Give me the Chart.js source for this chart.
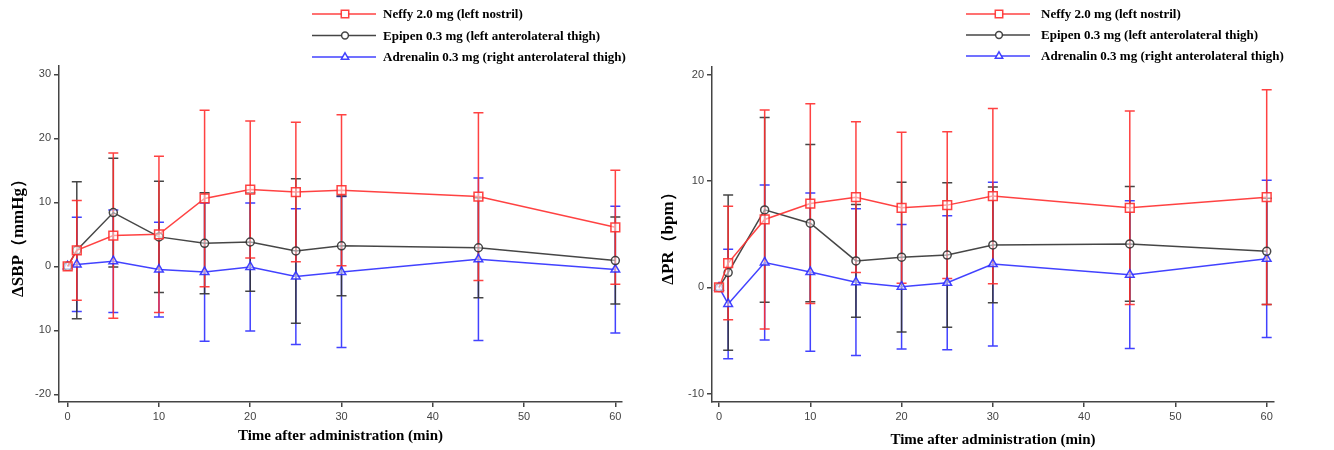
<!DOCTYPE html>
<html>
<head>
<meta charset="utf-8">
<script src="https://cdn.jsdelivr.net/npm/chart.js@4.4.1/dist/chart.umd.min.js"></script>
<style>
  body { margin: 0; background: #fff; }
  #sbp-wrap { position: absolute; left: 0; top: 0; width: 650px; height: 450px; }
  #pr-wrap { position: absolute; left: 650px; top: 0; width: 684px; height: 450px; }
</style>
</head>
<body>
<div id="sbp-wrap"><canvas id="sbpChart" width="650" height="450"></canvas></div>
<div id="pr-wrap"><canvas id="prChart" width="684" height="450"></canvas></div>
<script>
// sampling times (min)
const times = [0, 1, 5, 10, 15, 20, 25, 30, 45, 60];
const groupNames = [
    'Neffy 2.0 mg (left nostril)',
    'Epipen 0.3 mg (left anterolateral thigh)',
    'Adrenalin 0.3 mg (right anterolateral thigh)'
];

// change in systolic blood pressure, mean and SD
const sbpNeffy = [0, 2.5, 4.8, 5.0, 10.6, 12.0, 11.6, 11.9, 10.9, 6.1];
const sbpNeffySd = [0, 7.8, 12.9, 12.2, 13.8, 10.7, 10.9, 11.8, 13.1, 8.9];
const sbpEpipen = [0, 2.5, 8.4, 4.6, 3.6, 3.8, 2.4, 3.2, 2.9, 0.9];
const sbpEpipenSd = [0, 10.7, 8.5, 8.7, 7.9, 7.7, 11.3, 7.8, 7.8, 6.8];
const sbpAdrenalin = [0, 0.3, 0.8, -0.5, -0.9, -0.1, -1.6, -0.9, 1.1, -0.5];
const sbpAdrenalinSd = [0, 7.35, 8.0, 7.4, 10.8, 10.0, 10.6, 11.8, 12.7, 9.9];

// change in pulse rate, mean and SD
const prNeffy = [0, 2.3, 6.4, 7.9, 8.5, 7.5, 7.75, 8.6, 7.5, 8.5];
const prNeffySd = [0, 5.35, 10.3, 9.4, 7.1, 7.1, 6.9, 8.25, 9.1, 10.1];
const prEpipen = [0, 1.4, 7.3, 6.05, 2.5, 2.85, 3.05, 4.0, 4.1, 3.4];
const prEpipenSd = [0, 7.3, 8.7, 7.4, 5.3, 7.05, 6.8, 5.45, 5.4, 5.0];
const prAdrenalin = [0, -1.55, 2.35, 1.45, 0.5, 0.07, 0.44, 2.2, 1.2, 2.7];
const prAdrenalinSd = [0, 5.15, 7.3, 7.45, 6.9, 5.85, 6.3, 7.7, 6.95, 7.4];

// axis ticks
const timeTicks = [0, 10, 20, 30, 40, 50, 60];
const sbpTicks = [-20, -10, 0, 10, 20, 30];
const sbpTickLabels = ['-20', '10', '0', '10', '20', '30'];
const prTicks = [-10, 0, 10, 20];
const prTickLabels = ['-10', '0', '10', '20'];

const colors = ['rgba(255,45,45,0.9)', 'rgba(50,50,50,0.9)', 'rgba(45,45,255,0.9)'];
const markers = [
    { style: 'rect', radius: 6.2 },
    { style: 'circle', radius: 4 },
    { style: 'triangle', radius: 5 }
];

// vertical SD whiskers with caps, drawn underneath the lines
const errorBars = {
    id: 'errorBars',
    beforeDatasetsDraw(chart) {
        const ctx = chart.ctx;
        const xs = chart.scales.x;
        const ys = chart.scales.y;
        for (let d = chart.data.datasets.length - 1; d >= 0; d--) {
            const ds = chart.data.datasets[d];
            ctx.save();
            ctx.strokeStyle = ds.borderColor;
            ctx.lineWidth = 1.5;
            ds.data.forEach((p, i) => {
                const sd = ds.sd[i];
                if (!sd) return;
                const x = xs.getPixelForValue(p.x);
                const top = ys.getPixelForValue(p.y + sd);
                const bot = ys.getPixelForValue(p.y - sd);
                ctx.beginPath();
                ctx.moveTo(x, top); ctx.lineTo(x, bot);
                ctx.moveTo(x - 5, top); ctx.lineTo(x + 5, top);
                ctx.moveTo(x - 5, bot); ctx.lineTo(x + 5, bot);
                ctx.stroke();
            });
            ctx.restore();
        }
    }
};

// stacked key in the top margin
const seriesKey = {
    id: 'seriesKey',
    afterDraw(chart, args, opts) {
        const ctx = chart.ctx;
        ctx.save();
        chart.data.datasets.forEach((ds, i) => {
            const y = opts.rows[i];
            ctx.strokeStyle = ds.borderColor;
            ctx.lineWidth = 1.5;
            ctx.beginPath();
            ctx.moveTo(opts.x, y);
            ctx.lineTo(opts.x + 64, y);
            ctx.stroke();
            ctx.fillStyle = '#fff';
            Chart.helpers.drawPoint(ctx, {
                pointStyle: ds.pointStyle,
                radius: ds.pointRadius * 0.85,
                rotation: 0,
                borderWidth: 1.5
            }, opts.x + 33, y);
            ctx.fillStyle = '#000';
            ctx.font = 'bold 13px "Liberation Serif", "Times New Roman", serif';
            ctx.textBaseline = 'middle';
            ctx.fillText(ds.label, opts.x + opts.gap, y + 1);
        });
        ctx.restore();
    }
};

function buildDatasets(series, sds) {
    return series.map((vals, i) => ({
        label: groupNames[i],
        data: vals.map((v, j) => ({ x: times[j], y: v })),
        sd: sds[i],
        borderColor: colors[i],
        backgroundColor: 'rgba(255,255,255,0.5)',
        borderWidth: 1.5,
        pointStyle: markers[i].style,
        pointRadius: markers[i].radius,
        pointBorderWidth: 1.5,
        tension: 0
    }));
}

function makeChart(canvasId, cfg) {
    const tickFont = { family: '"Liberation Sans", Arial, sans-serif', size: 11 };
    const titleFont = { family: '"Liberation Serif", "Times New Roman", serif', weight: 'bold' };
    return new Chart(document.getElementById(canvasId), {
        type: 'line',
        data: { datasets: cfg.datasets },
        plugins: [errorBars, seriesKey],
        options: {
            responsive: false,
            animation: false,
            events: [],
            layout: { padding: { left: 0, right: cfg.padRight, top: cfg.padTop, bottom: 0 } },
            plugins: {
                legend: { display: false },
                tooltip: { enabled: false },
                seriesKey: cfg.key
            },
            scales: {
                x: {
                    type: 'linear',
                    min: cfg.xMin,
                    max: cfg.xMax,
                    afterBuildTicks: s => { s.ticks = timeTicks.map(v => ({ value: v })); },
                    afterFit: s => { s.height = 48; },
                    grid: { drawOnChartArea: false, drawTicks: true, tickLength: 5, color: '#444', lineWidth: 1.5 },
                    border: { display: true, color: '#444', width: 1.5 },
                    ticks: { font: tickFont, color: '#444', padding: 3, maxRotation: 0, autoSkip: false },
                    title: {
                        display: true,
                        text: 'Time after administration (min)',
                        font: Object.assign({ size: 15 }, titleFont),
                        color: '#000',
                        padding: { top: 0, bottom: cfg.xTitlePad }
                    }
                },
                y: {
                    min: cfg.yMin,
                    max: cfg.yMax,
                    afterBuildTicks: s => { s.ticks = cfg.ticks.map(v => ({ value: v })); },
                    afterFit: s => { s.width = cfg.axisWidth; },
                    grid: { drawOnChartArea: false, drawTicks: true, tickLength: 5, color: '#444', lineWidth: 1.5 },
                    border: { display: true, color: '#444', width: 1.5 },
                    ticks: {
                        font: tickFont,
                        color: '#444',
                        padding: 3,
                        autoSkip: false,
                        callback: v => cfg.tickLabels[cfg.ticks.indexOf(v)]
                    },
                    title: {
                        display: true,
                        text: cfg.yTitle,
                        font: Object.assign({ size: 17 }, titleFont),
                        color: '#000',
                        padding: { top: 8, bottom: 0 }
                    }
                }
            }
        }
    });
}

makeChart('sbpChart', {
    datasets: buildDatasets([sbpNeffy, sbpEpipen, sbpAdrenalin], [sbpNeffySd, sbpEpipenSd, sbpAdrenalinSd]),
    padRight: 28,
    padTop: 66,
    axisWidth: 59,
    xMin: -0.95, xMax: 60.73,
    yMin: -21.2, yMax: 31.3,
    ticks: sbpTicks,
    tickLabels: sbpTickLabels,
    yTitle: 'ΔSBP（mmHg）',
    xTitlePad: 5,
    key: { x: 312, gap: 71, rows: [14, 35.5, 57] }
});

makeChart('prChart', {
    datasets: buildDatasets([prNeffy, prEpipen, prAdrenalin], [prNeffySd, prEpipenSd, prAdrenalinSd]),
    padRight: 60,
    padTop: 67,
    axisWidth: 62,
    xMin: -0.77, xMax: 60.8,
    yMin: -10.78, yMax: 20.75,
    ticks: prTicks,
    tickLabels: prTickLabels,
    yTitle: 'ΔPR（bpm）',
    xTitlePad: 1,
    key: { x: 316, gap: 75, rows: [14, 35, 56] }
});
</script>
</body>
</html>
